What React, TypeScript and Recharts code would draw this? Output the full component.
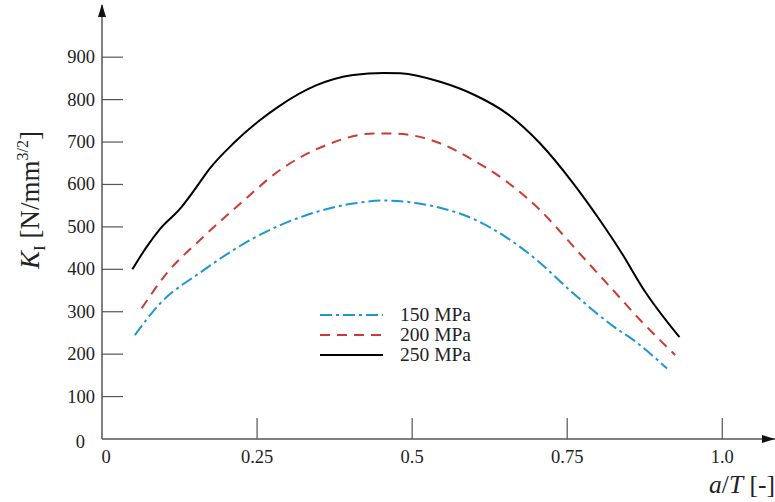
import React from 'react';
import { LineChart, Line, XAxis, YAxis, Legend } from 'recharts';

// --- axis ticks ---
const xTicks = [0, 0.25, 0.5, 0.75, 1.0];
const xTickLabels = ['0', '0.25', '0.5', '0.75', '1.0'];
const yTicks = [0, 100, 200, 300, 400, 500, 600, 700, 800, 900];

// --- series (a/T, K_I) ---
const a150 = [0.053, 0.094, 0.158, 0.244, 0.33, 0.405, 0.454, 0.545, 0.6, 0.65, 0.696, 0.76, 0.825, 0.857, 0.911];
const k150 = [245, 320, 392, 473, 528, 555, 562, 545, 518, 477, 428, 343, 265, 233, 166];

const a200 = [0.064, 0.104, 0.158, 0.223, 0.287, 0.362, 0.438, 0.47, 0.545, 0.599, 0.653, 0.706, 0.749, 0.782, 0.814, 0.868, 0.924];
const k200 = [308, 390, 469, 555, 634, 693, 720, 720, 697, 657, 606, 540, 472, 418, 367, 280, 198];

const a250 = [0.049, 0.072, 0.094, 0.126, 0.147, 0.174, 0.212, 0.255, 0.284, 0.346, 0.405, 0.454, 0.481, 0.545, 0.599, 0.653, 0.706, 0.76, 0.803, 0.838, 0.873, 0.931];
const k250 = [400, 453, 496, 543, 583, 638, 697, 752, 783, 834, 858, 863, 862, 842, 812, 767, 697, 602, 515, 438, 353, 240];

const seriesNames = ['150 MPa', '200 MPa', '250 MPa'];

const toData = (xs: number[], ys: number[]) => xs.map((x, i) => ({ x, k: ys[i] }));

const SERIES = [
  { name: seriesNames[0], data: toData(a150, k150), color: '#1e96d2', dash: '12 4 3 4' },
  { name: seriesNames[1], data: toData(a200, k200), color: '#cc3a33', dash: '10 7' },
  { name: seriesNames[2], data: toData(a250, k250), color: '#000000', dash: undefined },
];

const FONT = '"Liberation Serif", "Times New Roman", serif';
const AXIS = '#555';

const XTick = (props: any) => {
  const { x, y, payload } = props;
  const i = xTicks.indexOf(payload.value);
  const isZero = payload.value === 0;
  return (
    <g>
      {!isZero && <line x1={x} y1={y} x2={x} y2={y - 21} stroke={AXIS} strokeWidth={1.2} />}
      <text x={isZero ? x + 4 : x} y={y + 24} textAnchor="middle" fontSize={18.5} fontFamily={FONT} fill="#222">
        {xTickLabels[i] ?? payload.value}
      </text>
    </g>
  );
};

const YTick = (props: any) => {
  const { x, y, payload } = props;
  const isZero = payload.value === 0;
  return (
    <g>
      {!isZero && <line x1={x} y1={y} x2={x + 21} y2={y} stroke={AXIS} strokeWidth={1.2} />}
      <text x={isZero ? x - 17 : x - 7} y={isZero ? y + 9 : y + 6} textAnchor="end" fontSize={18.5} fontFamily={FONT} fill="#222">
        {payload.value}
      </text>
    </g>
  );
};

const XLabel = (props: any) => {
  const { x, y, width } = props.viewBox;
  const tip = x + width;
  return (
    <g>
      <polygon points={`${tip},${y} ${tip - 13},${y - 4} ${tip - 13},${y + 4}`} fill="#111" />
      <text x={tip} y={y + 54} textAnchor="end" fontSize={25.5} fontFamily={FONT} fill="#222">
        <tspan fontStyle="italic">a</tspan>/<tspan fontStyle="italic">T</tspan> [-]
      </text>
    </g>
  );
};

const YLabel = (props: any) => {
  const { x, y, width } = props.viewBox;
  const ax = x + width;
  const lx = 39;
  const ly = 200;
  return (
    <g>
      <polygon points={`${ax},${y - 1} ${ax - 4},${y + 12} ${ax + 4},${y + 12}`} fill="#111" />
      <text x={lx} y={ly} transform={`rotate(-90, ${lx}, ${ly})`} textAnchor="middle" fontSize={27} fontFamily={FONT} fill="#222">
        <tspan fontStyle="italic">K</tspan>
        <tspan dy={6} fontSize={17}>I</tspan>
        <tspan dy={-6}> [N/mm</tspan>
        <tspan dy={-11} fontSize={16}>3/2</tspan>
        <tspan dy={11}>]</tspan>
      </text>
    </g>
  );
};

const renderLegend = () => (
  <svg width={200} height={66}>
    {SERIES.map((s, i) => {
      const cy = 12 + i * 20;
      return (
        <g key={s.name}>
          <line x1={10} y1={cy} x2={73} y2={cy} stroke={s.color} strokeWidth={2} strokeDasharray={s.dash} />
          <text x={90} y={cy + 6} fontSize={19.5} fontFamily={FONT} fill="#222">
            {s.name}
          </text>
        </g>
      );
    })}
  </svg>
);

export default function App() {
  return (
    <div style={{ position: 'absolute', left: 0, top: 0, width: 775, height: 502, background: '#fff' }}>
      <LineChart width={775} height={502} margin={{ top: 5, right: 0, bottom: 0, left: 0 }}>
        <XAxis
          type="number"
          dataKey="x"
          domain={[0, 1.085]}
          ticks={xTicks}
          interval={0}
          allowDataOverflow
          height={63}
          stroke={AXIS}
          strokeWidth={1.5}
          tickSize={0}
          tickMargin={0}
          tickLine={false}
          tick={<XTick />}
          label={<XLabel />}
        />
        <YAxis
          type="number"
          domain={[0, 1023]}
          ticks={yTicks}
          interval={0}
          allowDataOverflow
          width={102}
          stroke={AXIS}
          strokeWidth={1.5}
          tickSize={0}
          tickMargin={0}
          tickLine={false}
          tick={<YTick />}
          label={<YLabel />}
        />
        <Legend
          layout="vertical"
          align="center"
          verticalAlign="middle"
          content={renderLegend}
          wrapperStyle={{ position: 'absolute', left: 310, top: 303, width: 200, height: 66 }}
        />
        {SERIES.map((s) => (
          <Line
            key={s.name}
            name={s.name}
            data={s.data}
            dataKey="k"
            type="monotone"
            stroke={s.color}
            strokeWidth={2}
            strokeDasharray={s.dash}
            dot={false}
            activeDot={false}
            isAnimationActive={false}
          />
        ))}
      </LineChart>
    </div>
  );
}
